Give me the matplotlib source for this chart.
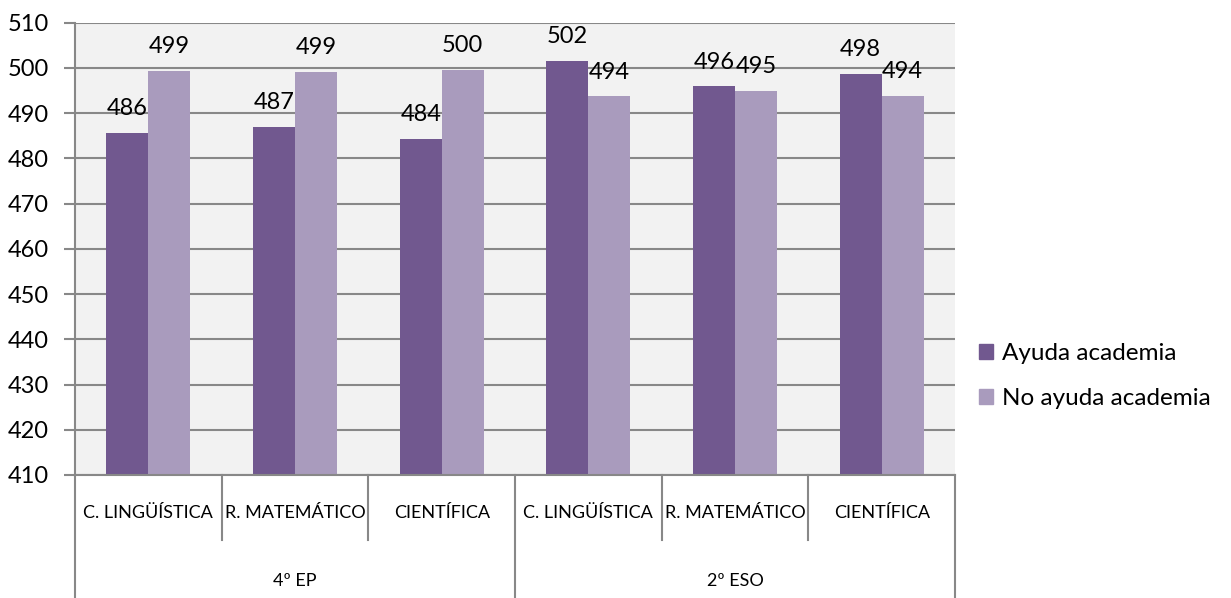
import matplotlib
matplotlib.use('Agg')
import matplotlib.pyplot as plt
import matplotlib.transforms as mtransforms
from matplotlib.patches import Patch
import numpy as np

plt.rcParams['font.family'] = ['Lato', 'DejaVu Sans']

categories = ['C. LINGÜÍSTICA', 'R. MATEMÁTICO', 'CIENTÍFICA',
              'C. LINGÜÍSTICA', 'R. MATEMÁTICO', 'CIENTÍFICA']
groups = ['4º EP', '2º ESO']
ayuda = [485.6, 486.9, 484.3, 501.5, 495.9, 498.6]
no_ayuda = [499.3, 499.1, 499.5, 493.7, 495.0, 493.9]
ayuda_lbl = ['486', '487', '484', '502', '496', '498']
no_ayuda_lbl = ['499', '499', '500', '494', '495', '494']

dark = '#71588F'
light = '#A99BBD'
grid_c = '#888888'

fig = plt.figure(figsize=(12.31, 5.98), dpi=100)
ax = fig.add_axes([75 / 1231, 123 / 598, 880 / 1231, 452.3 / 598])
ax.set_facecolor('#F2F2F2')

x = np.arange(len(categories))
w = 0.286
b1 = ax.bar(x - w / 2, ayuda, w, color=dark, label='Ayuda academia', zorder=3)
b2 = ax.bar(x + w / 2, no_ayuda, w, color=light, label='No ayuda academia', zorder=3)

for rect, t in zip(b1, ayuda_lbl):
    ax.annotate(t, (rect.get_x() + rect.get_width() / 2, rect.get_height()),
                xytext=(0, 10), textcoords='offset points', ha='center',
                va='bottom', fontsize=17, zorder=4)
for rect, t in zip(b2, no_ayuda_lbl):
    ax.annotate(t, (rect.get_x() + rect.get_width() / 2, rect.get_height()),
                xytext=(0, 10), textcoords='offset points', ha='center',
                va='bottom', fontsize=17, zorder=4)

ax.set_xlim(-0.5, len(categories) - 0.5)
ax.set_ylim(410, 510)
ax.set_yticks(np.arange(410, 511, 10))
ax.yaxis.grid(True, color=grid_c, linewidth=1.5, zorder=0)
ax.tick_params(axis='y', length=8, width=1.5, color=grid_c, pad=11, labelsize=17)
ax.set_xticks([])
for s in ['top', 'right', 'bottom']:
    ax.spines[s].set_visible(False)
ax.spines['left'].set_color(grid_c)
ax.spines['left'].set_linewidth(1.5)
ax.spines['left'].set_zorder(5)
ax.axhline(410, color=grid_c, linewidth=1.5, zorder=5, clip_on=False)

# two-level category axis
trans = mtransforms.blended_transform_factory(ax.transData, ax.transAxes)
for i in range(1, len(categories)):
    if i % 3 == 0:
        continue
    ax.plot([i - 0.5, i - 0.5], [0, -0.1437], color=grid_c, lw=1.5,
            transform=trans, clip_on=False)
for xb in [-0.5, 2.5, 5.5]:
    ax.plot([xb, xb], [0, -0.272], color=grid_c, lw=1.5,
            transform=trans, clip_on=False)
for i, c in enumerate(categories):
    ax.text(i, -0.084, c, transform=trans, ha='center', va='center', fontsize=13)
for g, gx in zip(groups, [1, 4]):
    ax.text(gx, -0.2343, g, transform=trans, ha='center', va='center', fontsize=13)

handles = [Patch(color=dark), Patch(color=light)]
fig.legend(handles, ['Ayuda academia', 'No ayuda academia'],
           loc='center left', bbox_to_anchor=(957 / 1231, (598 - 376) / 598),
           frameon=False, fontsize=17.5, handlelength=0.6, handleheight=0.6,
           handletextpad=0.35, labelspacing=1.0)

fig.savefig('out.png', dpi=100)
